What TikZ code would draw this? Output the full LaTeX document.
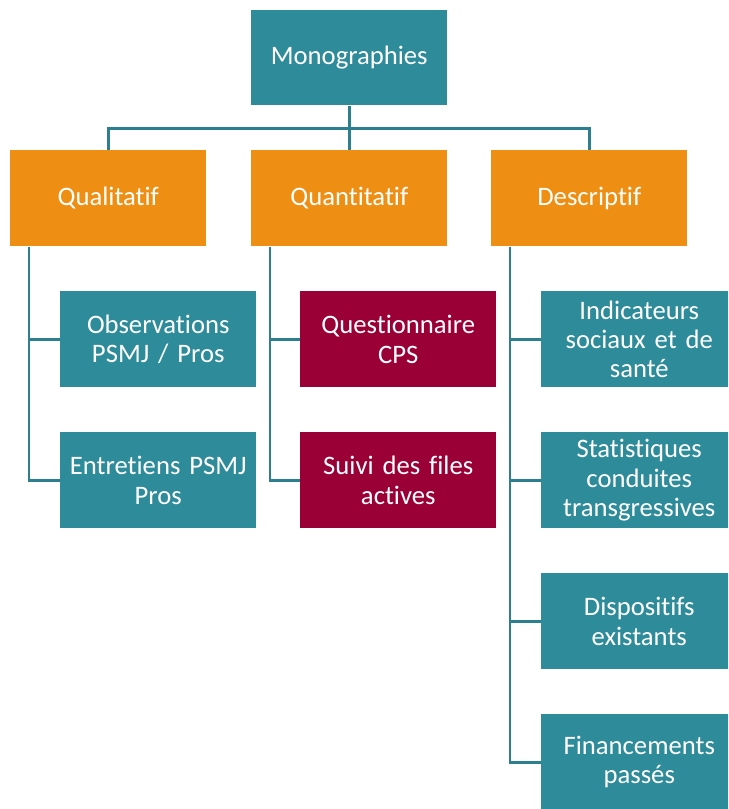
\documentclass[tikz,border=0pt]{standalone}
\usepackage{fontspec}
\setmainfont{Carlito}[Ligatures={NoCommon}]
\definecolor{teal1}{HTML}{2E8B9A}
\definecolor{line1}{HTML}{2B7F8E}
\definecolor{orange1}{HTML}{EE8E12}
\definecolor{crim1}{HTML}{9A0036}
\tikzset{
  box/.style={anchor=north west, minimum width=147pt, minimum height=72pt, inner sep=1pt,
    text width=144pt, align=center, text=white,
    font=\fontsize{20pt}{22pt}\selectfont},
  tealbox/.style={box, fill=teal1},
  orbox/.style={box, fill=orange1},
  crbox/.style={box, fill=crim1},
  conn/.style={draw=line1, line width=2.2pt}
}
\begin{document}
\begin{tikzpicture}[x=0.75pt,y=-0.75pt]
\clip (0,0) rectangle (728,809);
\fill[white] (0,0) rectangle (728,809);
\node[tealbox, minimum height=71.25pt] (mono) at (251,10) {Monographies};
\node[orbox] (qual) at (10,150) {Qualitatif};
\node[orbox] (quan) at (251,150) {Quantitatif};
\node[orbox] (desc) at (491,150) {Descriptif};
\node[tealbox] (obs) at (60,291) {Observations\\PSMJ / Pros};
\node[tealbox] (ent) at (60,432) {Entretiens PSMJ\\Pros};
\node[crbox] (qcps) at (300,291) {Questionnaire\\CPS};
\node[crbox] (suivi) at (300,432) {Suivi des files\\actives};
\node[tealbox] (ind) at (541,291) {Indicateurs\\sociaux et de\\santé};
\node[tealbox] (stat) at (541,432) {Statistiques\\conduites\\transgressives};
\node[tealbox] (disp) at (541,573) {Dispositifs\\existants};
\node[tealbox] (fin) at (541,714) {Financements\\passés};
\draw[conn] (mono.south) -- ++(0,23) coordinate (hub);
\draw[conn] (hub) -| (qual.north);
\draw[conn] (hub) -| (desc.north);
\draw[conn] (hub) -- (quan.north);
\draw[conn] (qual.south west) ++(19,0) coordinate (qa) |- (obs.west);
\draw[conn] (qa) |- (ent.west);
\draw[conn] (quan.south west) ++(19,0) coordinate (qb) |- (qcps.west);
\draw[conn] (qb) |- (suivi.west);
\draw[conn] (desc.south west) ++(19,0) coordinate (qc) |- (ind.west);
\draw[conn] (qc) |- (stat.west);
\draw[conn] (qc) |- (disp.west);
\draw[conn] (qc) |- (fin.west);
\end{tikzpicture}
\end{document}
